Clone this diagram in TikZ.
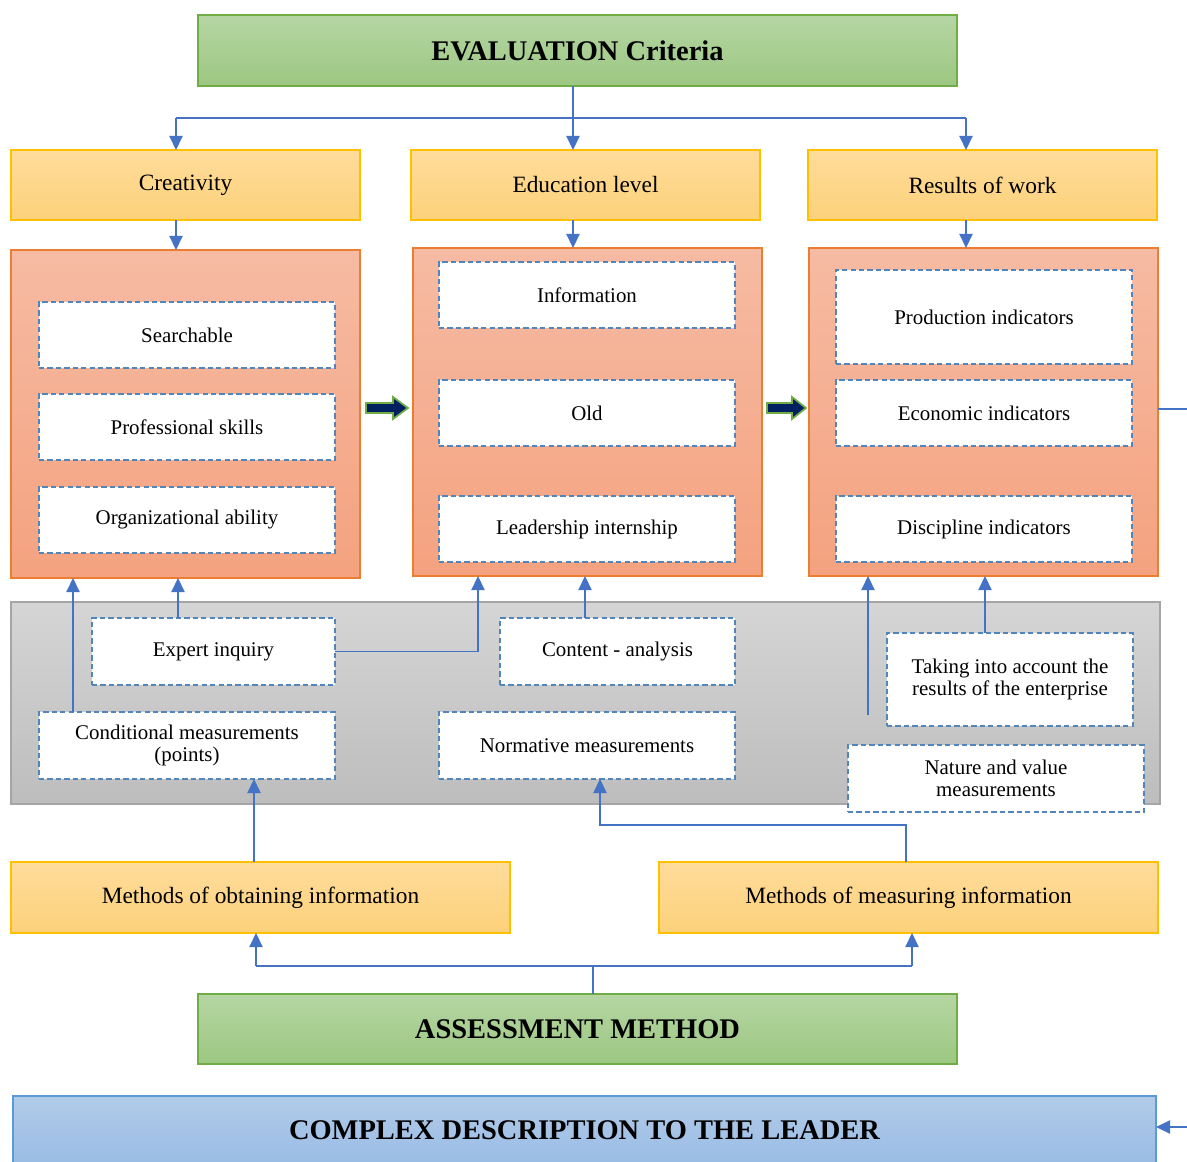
\documentclass[tikz,border=0pt]{standalone}
\usepackage{fontspec}
\setmainfont{Liberation Serif}
\usetikzlibrary{arrows.meta}
\definecolor{grnT}{HTML}{B5D6A4}
\definecolor{grnBt}{HTML}{9CC781}
\definecolor{grnB}{HTML}{70AD47}
\definecolor{ylwT}{HTML}{FEDC9B}
\definecolor{ylwBt}{HTML}{FDD17A}
\definecolor{ylwB}{HTML}{FFC000}
\definecolor{orgT}{HTML}{F6BBA3}
\definecolor{orgBt}{HTML}{F4A27F}
\definecolor{orgB}{HTML}{ED7D31}
\definecolor{gryT}{HTML}{D5D5D5}
\definecolor{gryBt}{HTML}{BDBDBD}
\definecolor{gryB}{HTML}{A5A5A5}
\definecolor{bluT}{HTML}{B2CBE9}
\definecolor{bluBt}{HTML}{99BCE5}
\definecolor{bluB}{HTML}{5B9BD5}
\definecolor{dashC}{HTML}{5285BA}
\definecolor{lnC}{HTML}{4472C4}
\definecolor{navy}{HTML}{002060}
\newcommand{\mkbox}[7]{\node[#6, minimum width={(#4-#2)*0.02cm}, minimum height={(#5-#3)*0.02cm}] (#1) at ({(#2+#4)/2},{(#3+#5)/2}) {#7};}
\begin{document}
\begin{tikzpicture}[x=0.02cm,y=-0.02cm,
  base/.style={inner sep=0pt, outer sep=0pt, align=center},
  title/.style={base, draw=grnB, line width=1pt, top color=grnT, bottom color=grnBt, font=\fontsize{16.2}{19}\selectfont\bfseries},
  cplxbox/.style={base, draw=bluB, line width=1pt, top color=bluT, bottom color=bluBt, font=\fontsize{16.2}{19}\selectfont\bfseries},
  cat/.style={base, draw=ylwB, line width=1pt, top color=ylwT, bottom color=ylwBt, font=\fontsize{13.3}{16}\selectfont},
  panel/.style={base, draw=orgB, line width=1pt, top color=orgT, bottom color=orgBt},
  graypanel/.style={base, draw=gryB, line width=0.8pt, top color=gryT, bottom color=gryBt},
  item/.style={base, draw=dashC, dash pattern=on 3pt off 1.8pt, line width=0.65pt, fill=white, font=\fontsize{11.9}{12.6}\selectfont},
  conn/.style={draw=lnC, line width=0.9pt},
  arr/.style={conn, -{Triangle[width=7.5pt,length=8pt]}},
  blk/.style={fill=navy, draw=grnB, line width=1pt, line join=miter}
]
\useasboundingbox (0,0) rectangle (1187,1162);
\clip (0,0) rectangle (1187,1162);
\fill[white] (0,0) rectangle (1187,1162);

% top title
\mkbox{eval}{198}{15}{957}{86}{title}{EVALUATION Criteria}
% categories
\mkbox{cre}{11}{150}{360}{220}{cat}{Creativity}
\mkbox{edu}{411}{150}{760}{220}{cat}{Education level}
\mkbox{res}{808}{150}{1157}{220}{cat}{Results of work}
% orange panels
\mkbox{creP}{11}{250}{360}{578}{panel}{}
\mkbox{eduP}{413}{248}{762}{576}{panel}{}
\mkbox{resP}{809}{248}{1158}{576}{panel}{}
% items
\mkbox{srch}{39}{302}{335}{368}{item}{Searchable}
\mkbox{prof}{39}{394}{335}{460}{item}{Professional skills}
\mkbox{orga}{39}{487}{335}{553}{item}{Organizational ability}
\mkbox{info}{439}{262}{735}{328}{item}{Information}
\mkbox{old}{439}{380}{735}{446}{item}{Old}
\mkbox{lead}{439}{496}{735}{562}{item}{Leadership internship}
\mkbox{prod}{836}{270}{1132}{364}{item}{Production indicators}
\mkbox{econ}{836}{380}{1132}{446}{item}{Economic indicators}
\mkbox{disc}{836}{496}{1132}{562}{item}{Discipline indicators}
% gray panel
\mkbox{gray}{11}{602}{1160}{804}{graypanel}{}
\mkbox{exp}{92}{618}{335}{685}{item}{Expert inquiry}
\mkbox{cont}{500}{618}{735}{685}{item}{Content - analysis}
\mkbox{cond}{39}{712}{335}{779}{item}{Conditional measurements\\(points)}
\mkbox{norm}{439}{712}{735}{779}{item}{Normative measurements}
\mkbox{take}{887}{633}{1133}{726}{item}{Taking into account the\\results of the enterprise}
\mkbox{natu}{848}{745}{1144}{812}{item}{Nature and value\\measurements}
% methods
\mkbox{mob}{11}{862}{510}{933}{cat}{Methods of obtaining information}
\mkbox{mmeas}{659}{862}{1158}{933}{cat}{Methods of measuring information}
% assessment & complex
\mkbox{assess}{198}{994}{957}{1064}{title}{ASSESSMENT METHOD}
\mkbox{cplx}{13}{1096}{1156}{1164}{cplxbox}{COMPLEX DESCRIPTION TO THE LEADER}

% x-position helpers
\path (73,0) coordinate (xA) (178,0) coordinate (xB) (478,0) coordinate (xC)
      (585,0) coordinate (xD) (985,0) coordinate (xF) (254,0) coordinate (xG);

% top distribution
\coordinate (j1) at (573,118);
\coordinate (jl) at (176,118);
\coordinate (jr) at (966,118);
\draw[conn] (eval.south -| j1) -- (j1);
\draw[conn] (jl) -- (jr);
\draw[arr] (j1) -- (edu.north -| j1);
\draw[arr] (jl) -- (cre.north -| jl);
\draw[arr] (jr) -- (res.north -| jr);
% category to panel
\draw[arr] (cre.south -| jl) -- (creP.north -| jl);
\draw[arr] (edu.south -| j1) -- (eduP.north -| j1);
\draw[arr] (res.south -| jr) -- (resP.north -| jr);

% block arrows
\coordinate (ba1) at (366,408);
\coordinate (ba2) at (767,408);
\draw[blk] (ba1) ++(0,-5) -- ++(27,0) -- ++(0,-6) -- ++(15,11) -- ++(-15,11) -- ++(0,-6) -- ++(-27,0) -- cycle;
\draw[blk] (ba2) ++(0,-5) -- ++(25,0) -- ++(0,-6) -- ++(14,11) -- ++(-14,11) -- ++(0,-6) -- ++(-25,0) -- cycle;

% gray panel to orange panels
\draw[arr] (cond.north -| xA) -- (creP.south -| xA);
\draw[arr] (exp.north -| xB) -- (creP.south -| xB);
\draw[arr] (exp.east) -| (eduP.south -| xC);
\draw[arr] (cont.north -| xD) -- (eduP.south -| xD);
\coordinate (fe) at (868,715);
\draw[arr] (fe) -- (resP.south -| fe);
\draw[arr] (take.north -| xF) -- (resP.south -| xF);

% methods to gray items
\draw[arr] (mob.north -| xG) -- (cond.south -| xG);
\coordinate (jm) at (600,825);
\coordinate (xI) at (906,0);
\draw[arr] (mmeas.north -| xI) |- (jm) -- (norm.south -| jm);

% assessment to methods
\coordinate (ja) at (593,966);
\coordinate (jb) at (256,966);
\coordinate (jc) at (912,966);
\draw[conn] (assess.north -| ja) -- (ja);
\draw[conn] (jb) -- (jc);
\draw[arr] (jb) -- (mob.south -| jb);
\draw[arr] (jc) -- (mmeas.south -| jc);

% right side loop to complex description
\coordinate (er) at (1205,409);
\coordinate (er2) at (1205,1127);
\draw[arr] (resP.east |- er) -- (er) -- (er2) -- (cplx.east |- er2);
\end{tikzpicture}
\end{document}
